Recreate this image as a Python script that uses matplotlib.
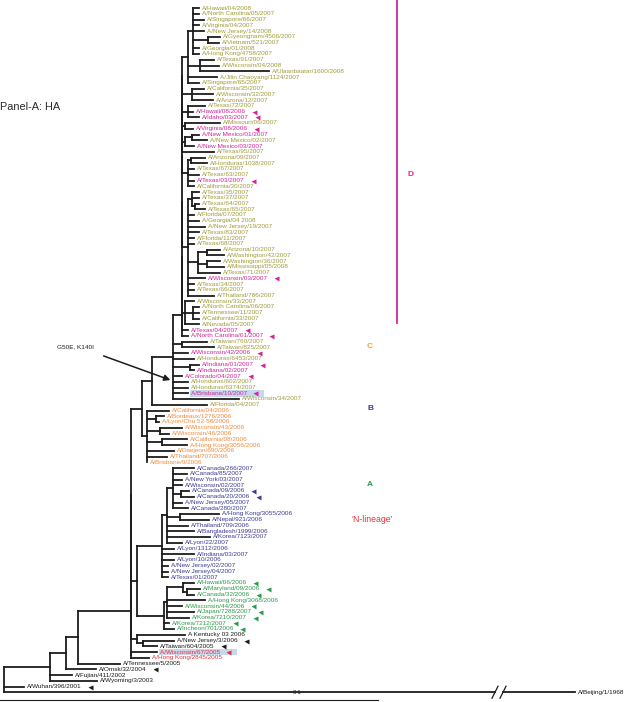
import matplotlib
matplotlib.use("Agg")
import matplotlib.pyplot as plt
from matplotlib.collections import LineCollection

plt.rcParams['font.family'] = ['Liberation Sans', 'DejaVu Sans']

# HA tree in newick form, the number after ':' is the node depth
d_g1a = ("(A/Hawaii/04/2008:199,A/North Carolina/05/2007:199,A/Singapore/66/2007:204,"
         "A/Virginia/04/2007:199,A/New Jersey/14/2008:204,"
         "(A/Gyeongnam/4506/2007:220,A/Vietnam/521/2007:219):208,"
         "A/Georgia/01/2008:199,A/Hong Kong/4758/2007:199):193")
d_g1b = "(A/Texas/91/2007:214,A/Wisconsin/04/2008:219,A/Ulaanbaatar/1600/2008:269):200"
d_g1 = "(" + d_g1a + "," + d_g1b + ",A/Jilin Chaoyang/1124/2007:217,A/Singapore/65/2007:199):188"
d_g2 = "(A/California/35/2007:204,A/Wisconsin/32/2007:213,A/Arizona/12/2007:213):192"
d_g3 = "(A/Texas/72/2007:205,A/Hawaii/08/2006:193,A/Idaho/03/2007:199):188"
d_g4a = "(A/Missouri/06/2007:220,A/Virginia/08/2006:193):185"
d_g4b = "((A/New Mexico/01/2007:199,A/New Mexico/02/2007:207):192,A/New Mexico/03/2007:194):185"
d_g6 = ("((A/Arizona/09/2007:205,A/Honduras/1038/2007:207):191,A/Texas/67/2007:194,"
        "A/Texas/63/2007:199,A/Texas/03/2007:194,A/California/30/2007:194):188")
d_g7 = ("((A/Texas/35/2007:199,A/Texas/37/2007:199,(A/Texas/64/2007:199,A/Texas/65/2007:205):195):192,"
        "A/Florida/07/2007:194,A/Georgia/04 2008:199,A/New Jersey/19/2007:205,A/Texas/83/2007:199,"
        "A/Florida/11/2007:194,A/Texas/68/2007:194,"
        "((A/Arizona/10/2007:220,A/Washington/42/2007:224):207,"
        "(A/Washington/36/2007:220,A/Mississippi/05/2008:224):207,A/Texas/71/2007:220):198,"
        "A/Wisconsin/03/2007:205,A/Texas/34/2007:194,A/Texas/66/2007:194,A/Thailand/786/2007:214):188")
d_g8 = ("(A/Wisconsin/33/2007:194,(A/North Carolina/06/2007:199,A/Tennessee/11/2007:199,"
        "A/California/33/2007:199):193,A/Nevada/05/2007:199):185")
d_spine = ("((((((((((" + d_g1 + "," + d_g2 + "):182," + d_g3 + "):182," + d_g4a + "):182,"
           + d_g4b + "):182,A/Texas/95/2007:214):182," + d_g6 + "):182," + d_g7 + "):182,"
           + d_g8 + "):182,A/Texas/04/2007:188):182,A/North Carolina/01/2007:188):182")
d_main = ("(" + d_spine + ",(A/Taiwan/760/2007:207,A/Taiwan/825/2007:214):182,"
          "A/Wisconsin/42/2006:188,A/Honduras/6453/2007:194,"
          "(A/Indiana/01/2007:199,A/Indiana/02/2007:194):190,A/Colorado/04/2007:182,"
          "A/Honduras/602/2007:188,A/Honduras/6374/2007:188,A/Brisbane/10/2007:188,"
          "A/Wisconsin/34/2007:239):173")
clade_d = "(" + d_main + ",A/Florida/04/2007:207):152"

clade_c = ("(A/California/04/2006:169,(A/Bordeaux/1276/2006:164,A/Lyon/Chu 52-58/2006:159):156,"
           "(A/Wisconsin/43/2006:182,A/Wisconsin/46/2006:169):160,"
           "(A/California/08/2006:187,A/Hong Kong/3056/2006:187):162,"
           "A/Daejeon/690/2006:174,A/Thailand/707/2006:167,A/Brisbane/9/2006:147):147")

b_canada = ("(A/Canada/266/2007:194,A/Canada/85/2007:187,A/New York/03/2007:182,"
            "A/Wisconsin/02/2007:182,(A/Canada/09/2006:189,A/Canada/20/2006:194):181,"
            "A/New Jersey/05/2007:182,A/Canada/280/2007:188):173")
b_asia = "(A/Hong Kong/3055/2006:219,A/Nepal/921/2006:209):180"
clade_b = ("((" + b_canada + "," + b_asia + ",A/Thailand/709/2006:188,A/Bangladesh/1999/2006:194,"
           "A/Korea/7123/2007:210,A/Lyon/22/2007:182):167,A/Lyon/1312/2006:174,A/Indiana/03/2007:194,"
           "A/Lyon/10/2006:174,A/New Jersey/02/2007:168,A/New Jersey/04/2007:168,A/Texas/01/2007:168):162")

clade_a = ("(((A/Hawaii/06/2006:194,(A/Maryland/09/2006:200,A/Canada/32/2006:194):187):183,"
           "A/Hong Kong/3068/2006:205,A/Wisconsin/44/2006:182,A/Japan/7288/2007:194,"
           "A/Korea/7210/2007:189):167,A/Korea/7212/2007:169,A/Incheon/701/2006:174):164")

n_lineage = "(A Kentucky 03 2006:185,(A/New Jersey/3/2006:174,A/Taiwan/604/2005:157):143):137"

tree_str = ("(((((((" + "(" + clade_d + "," + clade_c + "):142,(" + clade_b + "," + clade_a + "):137):131,"
            + n_lineage + "):131,(A/Wisconsin/67/2005:157,A/Hong Kong/2845/2005:149):131):131,"
            "A/Tennessee/5/2005:120):78,A/Omsk/32/2004:96):66,A/Fujian/411/2002:72,"
            "A/Wyoming/3/2003:97):50,A/Wuhan/396/2001:24,A/Beijing/1/1968:575):4")

# clades in leaf order and their label colours
clade_names = ['D', 'C', 'B', 'A', 'other']
clade_sizes = [70, 10, 20, 9, 11]
clade_colours = ['#a09b38', '#f08a3e', '#3d3b94', '#2c9b4b', '#1a1a1a']

magenta_names = ['A/Hawaii/08/2006', 'A/Idaho/03/2007', 'A/Virginia/08/2006', 'A/New Mexico/01/2007',
                 'A/New Mexico/03/2007', 'A/Texas/03/2007', 'A/Wisconsin/03/2007', 'A/Texas/04/2007',
                 'A/North Carolina/01/2007', 'A/Wisconsin/42/2006', 'A/Indiana/01/2007',
                 'A/Indiana/02/2007', 'A/Colorado/04/2007', 'A/Brisbane/10/2007']
red_names = ['A/Wisconsin/67/2005', 'A/Hong Kong/2845/2005']
arrow_names = ['A/Hawaii/08/2006', 'A/Idaho/03/2007', 'A/Virginia/08/2006', 'A/Texas/03/2007',
               'A/Wisconsin/03/2007', 'A/Texas/04/2007', 'A/North Carolina/01/2007',
               'A/Wisconsin/42/2006', 'A/Indiana/01/2007', 'A/Colorado/04/2007', 'A/Brisbane/10/2007',
               'A/Canada/09/2006', 'A/Canada/20/2006', 'A/Hawaii/06/2006', 'A/Maryland/09/2006',
               'A/Canada/32/2006', 'A/Wisconsin/44/2006', 'A/Japan/7288/2007', 'A/Korea/7210/2007',
               'A/Korea/7212/2007', 'A/Incheon/701/2006', 'A/New Jersey/3/2006', 'A/Taiwan/604/2005',
               'A/Wisconsin/67/2005', 'A/Omsk/32/2004', 'A/Wuhan/396/2001']
boxed_names = ['A/Brisbane/10/2007', 'A/Wisconsin/67/2005']
outgroup = 'A/Beijing/1/1968'

MAGENTA = '#d3259b'
RED = '#e5323b'


def parse(s):
    pos = 0

    def node():
        nonlocal pos
        kids = []
        name = ''
        if s[pos] == '(':
            pos += 1
            kids.append(node())
            while s[pos] == ',':
                pos += 1
                kids.append(node())
            pos += 1
        else:
            start = pos
            while s[pos] not in ':,)':
                pos += 1
            name = s[start:pos]
        x = None
        if pos < len(s) and s[pos] == ':':
            pos += 1
            start = pos
            while pos < len(s) and s[pos] not in ',)':
                pos += 1
            x = float(s[start:pos])
        return {'name': name, 'kids': kids, 'x': x}
    return node()


root = parse(tree_str)

leaves = []
Y0, DY = 8, 5.75


def layout(n):
    if not n['kids']:
        n['y'] = Y0 + DY * len(leaves)
        leaves.append(n)
        return
    for k in n['kids']:
        layout(k)
    n['y'] = (n['kids'][0]['y'] + n['kids'][-1]['y']) / 2


layout(root)

fig = plt.figure(figsize=(6.33, 7.02), dpi=100)
ax = fig.add_axes([0, 0, 1, 1])
ax.set_xlim(0, 633)
ax.set_ylim(702, 0)
ax.axis('off')

segs = []
break_x = (495, 503)


def draw(n):
    if not n['kids']:
        return
    segs.append([(n['x'], n['kids'][0]['y']), (n['x'], n['kids'][-1]['y'])])
    for k in n['kids']:
        if k['name'] == outgroup:
            segs.append([(n['x'], k['y']), (break_x[0], k['y'])])
            segs.append([(break_x[1], k['y']), (k['x'], k['y'])])
        else:
            segs.append([(n['x'], k['y']), (k['x'], k['y'])])
        draw(k)


draw(root)
ax.add_collection(LineCollection(segs, colors='#1c1c1c', linewidths=1.3, capstyle='projecting'))

# break marks on the outgroup branch
yb = leaves[-1]['y']
for bx in break_x:
    ax.plot([bx - 3, bx + 3], [yb + 6, yb - 6], color='#1c1c1c', lw=0.9)

colour_of = []
for c, size in zip(clade_colours, clade_sizes):
    colour_of += [c] * size

renderer = fig.canvas.get_renderer()
for i, leaf in enumerate(leaves):
    name = leaf['name']
    col = colour_of[i]
    if name in magenta_names:
        col = MAGENTA
    if name in red_names:
        col = RED
    has_arrow = name in arrow_names
    txt = name + ('         ' if has_arrow and name in boxed_names else '')
    kw = {}
    if name in boxed_names:
        kw['bbox'] = dict(facecolor='#c7d7ec', edgecolor='none', pad=0.6)
    t = ax.text(leaf['x'] + 3, leaf['y'], txt, fontsize=4.55, color=col, va='center', ha='left', **kw)
    if has_arrow:
        # small marker triangle just after the strain name
        t_plain = ax.text(leaf['x'] + 3, leaf['y'], name, fontsize=4.55, va='center', ha='left', alpha=0)
        bb = t_plain.get_window_extent(renderer)
        x_end = ax.transData.inverted().transform((bb.x1, bb.y0))[0]
        t_plain.remove()
        ax.plot(x_end + 8, leaf['y'], marker='<', ms=3.6, color=col, mec='none', zorder=5)

# clade bracket and labels
ax.plot([397, 397], [0, 323], color=MAGENTA, lw=1.3)
ax.text(411, 174, 'D', color=MAGENTA, fontsize=6, fontweight='bold', va='center', ha='center')
ax.text(370, 347, 'C', color='#f0a035', fontsize=6, fontweight='bold', va='center', ha='center')
ax.text(370, 408, 'B', color='#3d3b94', fontsize=6, fontweight='bold', va='center', ha='center')
ax.text(370, 484, 'A', color='#2c9b4b', fontsize=6, fontweight='bold', va='center', ha='center')
ax.text(372, 519, '\u2018N-lineage\u2019', color=RED, fontsize=6.3, va='center', ha='center')

ax.text(0, 107, 'Panel-A: HA', fontsize=7.8, color='#2a2a2a', va='center', ha='left')

ax.text(57, 347, 'G50E, K140I', fontsize=4.6, color='#1c1c1c', va='center', ha='left')
ax.annotate('', xy=(173, 381), xytext=(101, 355),
            arrowprops=dict(arrowstyle='-|>', color='#1c1c1c', lw=1.1, mutation_scale=9))

# scale bar
ax.plot([0, 378], [700, 700], color='#1c1c1c', lw=0.8)
ax.text(297, 693, '0\u00b71', fontsize=4.4, color='#1c1c1c', va='center', ha='center')

fig.savefig('out.png', dpi=100)
